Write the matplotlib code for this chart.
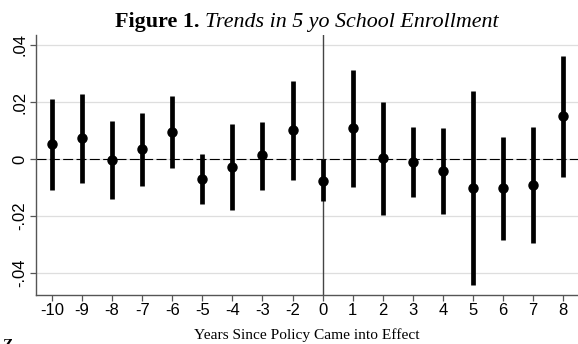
import matplotlib
matplotlib.use("Agg")
import matplotlib.pyplot as plt
import numpy as np

# Event-study estimates (years relative to policy; -1 is the omitted base year)
years = [-10, -9, -8, -7, -6, -5, -4, -3, -2, 0, 1, 2, 3, 4, 5, 6, 7, 8]
coef = [0.0053, 0.0073, -0.0004, 0.0035, 0.0094, -0.0070, -0.0028, 0.0013, 0.0101,
        -0.0076, 0.0108, 0.0002, -0.0009, -0.0041, -0.0101, -0.0103, -0.0090, 0.0150]
ci_low = [-0.0109, -0.0085, -0.0141, -0.0094, -0.0033, -0.0159, -0.0179, -0.0109, -0.0074,
          -0.0148, -0.0097, -0.0196, -0.0132, -0.0192, -0.0442, -0.0284, -0.0296, -0.0063]
ci_high = [0.0212, 0.0228, 0.0133, 0.0161, 0.0221, 0.0019, 0.0123, 0.0131, 0.0274,
           0.0000, 0.0312, 0.0200, 0.0112, 0.0110, 0.0239, 0.0077, 0.0113, 0.0362]
yticks = [-0.04, -0.02, 0.0, 0.02, 0.04]
ytick_labels = ["-.04", "-.02", "0", ".02", ".04"]

W, H = 578, 344
fig = plt.figure(figsize=(W / 100, H / 100), dpi=100)
ax = fig.add_axes([36 / W, 49 / H, (W - 36) / W, (295 - 35) / H])

pos = np.arange(len(years))
coef = np.array(coef)
lo = np.array(ci_low)
hi = np.array(ci_high)

# grid and reference lines
for t in yticks:
    ax.axhline(t, color="#dedede", lw=0.9, zorder=0)
ax.axhline(0, color="black", lw=0.8, dashes=(9, 3), zorder=1)
ref = years.index(0)
ax.axvline(pos[ref], color="#444444", lw=1.0, zorder=1)

# confidence intervals and point estimates
ax.vlines(pos, lo, hi, color="black", lw=3.4, zorder=3)
ax.plot(pos, coef, "o", color="black", ms=6.5, zorder=4)

ax.set_xlim(-0.53, 17.49)
ax.set_ylim(-0.0477, 0.0435)
ax.set_xticks(pos)
ax.set_xticklabels([str(y) for y in years], fontsize=12, family="Liberation Sans")
ax.set_yticks(yticks)
ax.set_yticklabels(ytick_labels, fontsize=12, family="Liberation Sans",
                   rotation=90, va="center")
ax.tick_params(axis="both", direction="out", length=4, width=0.9, color="#555555")
ax.tick_params(axis="x", pad=2)
ax.tick_params(axis="y", pad=2)

for side in ("top", "right"):
    ax.spines[side].set_visible(False)
for side in ("left", "bottom"):
    ax.spines[side].set_color("#555555")
    ax.spines[side].set_linewidth(1.0)

fig.text((36 + W) / 2 / W, 1 - 339.5 / H, "Years Since Policy Came into Effect",
         family="Liberation Serif", fontsize=11.1, ha="center", va="baseline")

# title: bold label followed by italic caption, centred together over the axes
cx = (36 + W) / 2 / W
ty = 1 - 26.7 / H
t1 = fig.text(0, ty, "Figure 1. ", family="Liberation Serif", fontweight="bold",
              fontsize=15.8, ha="left", va="baseline")
t2 = fig.text(0, ty, "Trends in 5 yo School Enrollment", family="Liberation Serif",
              style="italic", fontsize=15.8, ha="left", va="baseline")
renderer = fig.canvas.get_renderer()
w1 = t1.get_window_extent(renderer).width / W
w2 = t2.get_window_extent(renderer).width / W
x0 = cx - (w1 + w2) / 2
t1.set_x(x0)
t2.set_x(x0 + w1)

fig.text(0.004, 5 / H, "Z", family="Liberation Serif", fontweight="bold",
         fontsize=11, ha="left", va="top")

fig.savefig("out.png", dpi=100)
